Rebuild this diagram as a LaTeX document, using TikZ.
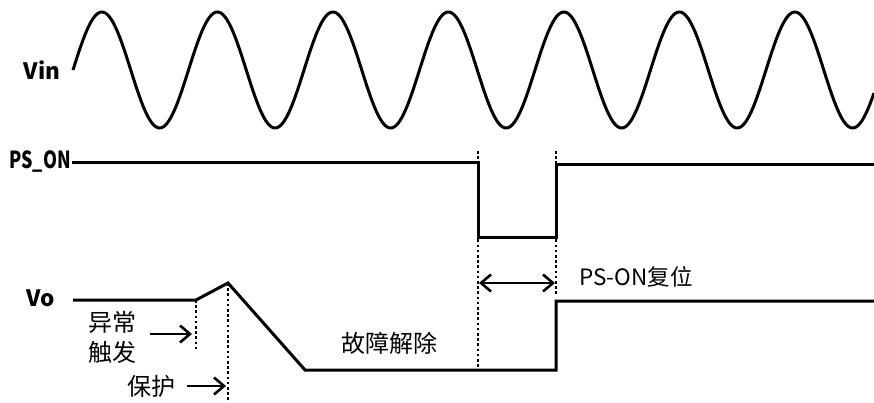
\documentclass[tikz,border=0pt]{standalone}
\usepackage{fontspec}
\setmainfont{Noto Sans CJK SC}
\newfontfamily\narrowfont[FakeStretch=0.76]{Noto Sans CJK SC}
\usetikzlibrary{arrows.meta}

\begin{document}
\begin{tikzpicture}[x=1pt,y=-1pt,
        wave/.style={line width=3pt},
        guide/.style={line width=2.6pt,dash pattern=on 2.6pt off 2.6pt},
        sig/.style={font=\fontsize{22.5}{22}\selectfont\bfseries},
        txt/.style={font=\fontsize{24}{30}\selectfont},
        pointer/.style={line width=2.6pt,-{Straight Barb[length=10pt,width=17pt]}}]
        \useasboundingbox (0,0) rectangle (874,403);

        % Nodes (signal names)
        \node[sig] (VIN) at (42,70) {Vin};
        \node[sig,font=\fontsize{23.5}{22}\narrowfont\bfseries] (PSON) at (40,162) {PS\_ON};
        \node[sig] (VO) at (41,298) {Vo};

        % Nodes (notes)
        \node[txt,align=center] (TRIG) at (112,337) {异常\\触发};
        \node[txt] (PROT) at (151,386) {保护};
        \node[txt] (CLEAR) at (389,343) {故障解除};
        \node[txt,font=\fontsize{22.5}{30}\selectfont] (RESET) at (636,277) {PS-ON复位};

        % Arrow ends
        \coordinate (T1) at (150,334);
        \coordinate (T2) at (192,334);
        \coordinate (P1) at (187,386);
        \coordinate (P2) at (226,386);
        \coordinate (R1) at (479,283);
        \coordinate (R2) at (555,283);

        % Waveforms
        \draw[wave] plot[domain=73:874,samples=400] (\x,{70-58*sin(3.11688*(\x-73))});
        \draw[wave] (72,163) -- (478,163) -- (478,237) -- (556,237) -- (556,165) -- (874,165);
        \draw[wave] (73,300) -- (196,300) -- (228,283) -- (305,370) -- (556,370) -- (556,301) -- (874,301);

        % Dotted guides
        \draw[guide] (196,300) -- (196,350);
        \draw[guide] (228,283) -- (228,403);
        \draw[guide] (478,151) -- (478,369);
        \draw[guide] (556,151) -- (556,296);

        % Arrows
        \draw[pointer] (T1) -- (T2);
        \draw[pointer] (P1) -- (P2);
        \draw[pointer,{Straight Barb[length=10pt,width=17pt]}-{Straight Barb[length=10pt,width=17pt]}] (R1) -- (R2);

    \end{tikzpicture}
\end{document}
